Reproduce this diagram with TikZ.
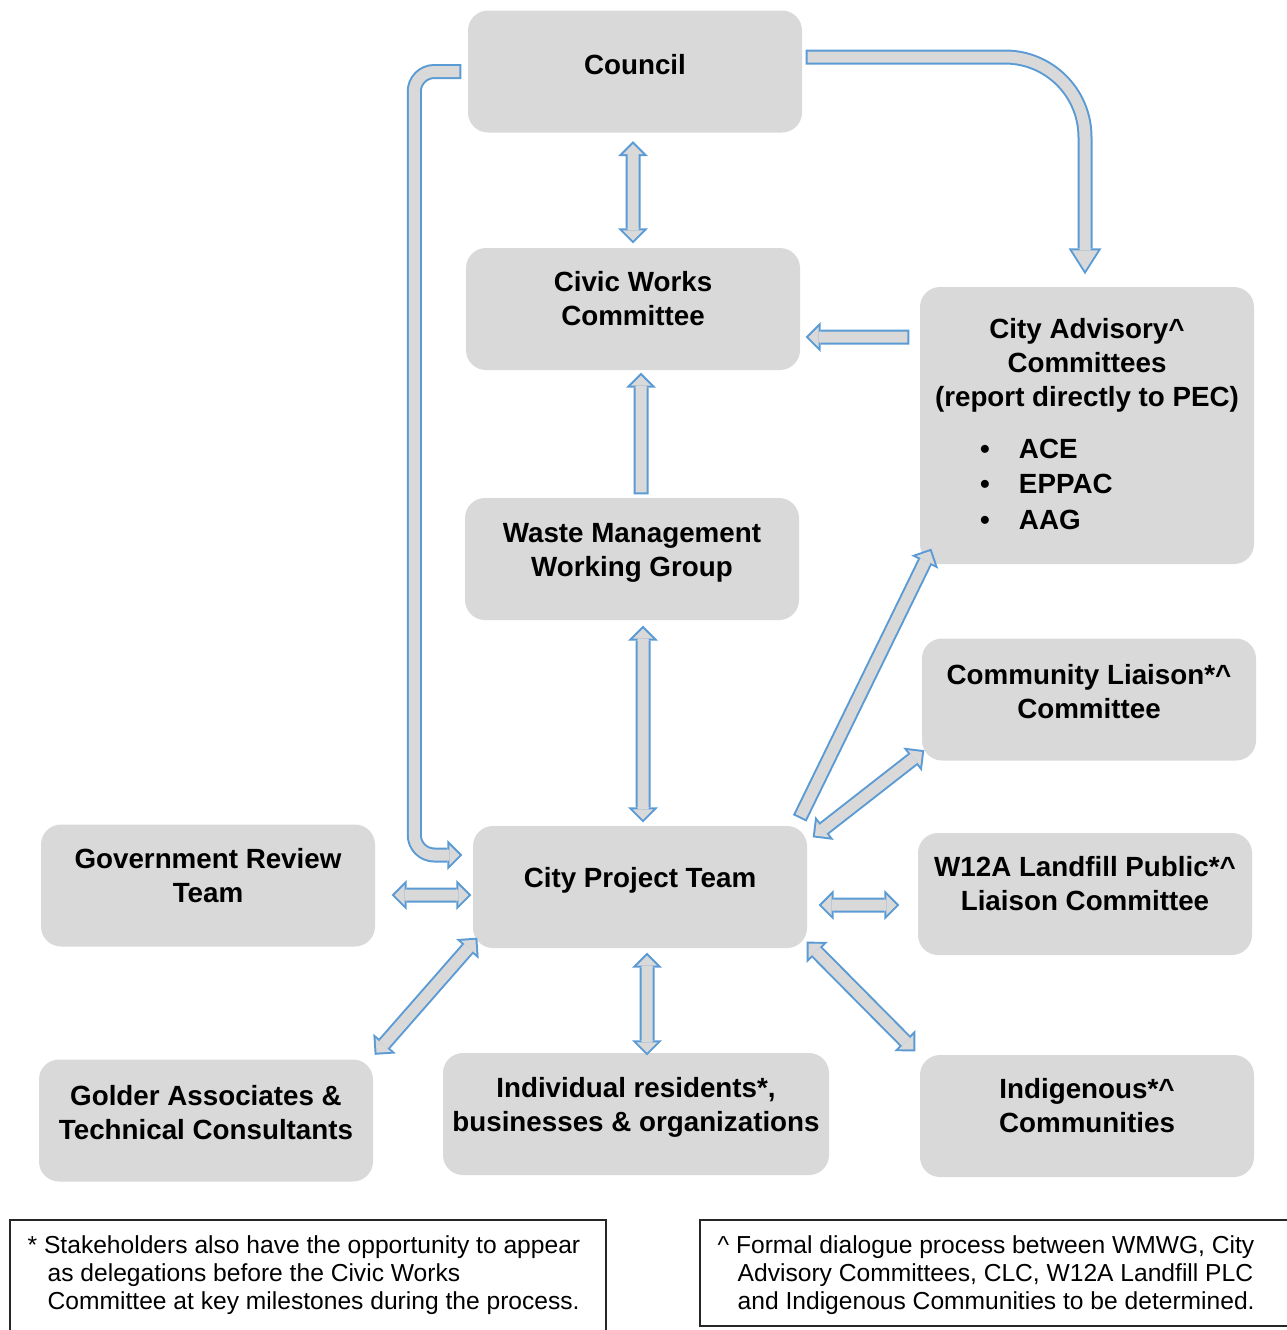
\documentclass[tikz,border=0pt]{standalone}
\usepackage{fontspec}
\setmainfont{Liberation Sans}
\usetikzlibrary{arrows.meta}
\definecolor{boxgray}{HTML}{D9D9D9}
\definecolor{arrowgray}{HTML}{D9D9D9}
\definecolor{arrowblue}{HTML}{5B9BD5}
\newcommand{\boxfont}{\bfseries\fontsize{7.9}{9.7}\selectfont}
\newcommand{\listfont}{\bfseries\fontsize{7.9}{10.1}\selectfont}
\newcommand{\notefont}{\fontsize{7}{8}\selectfont}
\newcommand{\bul}{\hbox to 3.9mm{\textbullet\hfil}}
\tikzset{
	BlockOut/.tip={Triangle[width=3mm, length=1.5mm, line width=0pt]},
	BlockIn/.tip={Triangle[width=2.04mm, length=1.02mm, line width=0pt]},
	BigOut/.tip={Triangle[width=3.3mm, length=2.6mm, line width=0pt]},
	BigIn/.tip={Triangle[width=2.58mm, length=2.03mm, line width=0pt]}
}

\begin{document}
\begin{tikzpicture}[box_style/.style={rounded corners=0.2cm, fill=boxgray, minimum width=3.34cm, minimum height=1.22cm, inner sep=0pt},
		text_style/.style={font=\boxfont, align=center, inner sep=0pt, yshift=1mm},
		arrow_out/.style={draw=arrowblue, line width=0.15cm, shorten >=0pt, shorten <=0pt},
		arrow_in/.style={draw=arrowgray, line width=0.11cm},
		one_way/.style={preaction={arrow_out, -{BlockOut}}, arrow_in, -{BlockIn}, shorten >=0.28mm, shorten <=0.2mm},
		big_way/.style={preaction={arrow_out, -{BigOut}}, arrow_in, -{BigIn}, shorten >=0.37mm, shorten <=0.2mm},
		two_way/.style={preaction={arrow_out, {BlockOut}-{BlockOut}}, arrow_in, {BlockIn}-{BlockIn}, shorten >=0.28mm, shorten <=0.28mm},
		note_style/.style={font=\notefont, align=left, inner sep=0pt, anchor=north west},
		note_frame/.style={draw=black!85, line width=0.45pt}]
	
	\useasboundingbox (0,0) rectangle (12.86,-13.30);
	
	% boxes
	\node[box_style, label={[text_style, yshift=-0.3mm]center:Council}] (council) at (6.35,-0.715) {};
	\node[box_style, label={[text_style]center:{Civic Works\\Committee}}] (civic) at (6.33,-3.09) {};
	\node[box_style, label={[text_style, yshift=-0.35mm]center:{Waste Management\\Working Group}}] (wmwg) at (6.32,-5.59) {};
	\node[box_style, label={[text_style, yshift=-0.3mm]center:City Project Team}] (cpt) at (6.40,-8.87) {};
	\node[box_style, label={[text_style]center:{Government Review\\Team}}] (gov) at (2.08,-8.855) {};
	\node[box_style, label={[text_style, yshift=-0.2mm]center:{Golder Associates \&\\Technical Consultants}}] (golder) at (2.06,-11.205) {};
	\node[box_style, minimum width=3.86cm, label={[text_style, yshift=-0.3mm]center:{Individual residents*,\\businesses \& organizations}}] (indiv) at (6.36,-11.14) {};
	\node[box_style, label={[text_style]center:{Indigenous*\textasciicircum\\Communities}}] (indig) at (10.87,-11.16) {};
	\node[box_style, label={[text_style, yshift=-0.2mm]center:{Community Liaison*\textasciicircum\\Committee}}] (clc) at (10.89,-6.995) {};
	\node[box_style, label={[text_style]center:{W12A Landfill Public*\textasciicircum\\Liaison Committee}}] (w12a) at (10.85,-8.94) {};
	\node[box_style, minimum height=2.77cm] (adv) at (10.87,-4.255) {};
	\node[font=\boxfont, align=center, inner sep=0pt, anchor=north] (adv_head) at ([yshift=-3.15mm]adv.north)
		{City Advisory\textasciicircum\\Committees\\(report directly to PEC)};
	\node[font=\listfont, align=left, inner sep=0pt, anchor=north west] (adv_list) at ([xshift=6mm, yshift=-15.2mm]adv.north west)
		{\bul ACE\\\bul EPPAC\\\bul AAG};
	
	% arrows
	\draw[two_way] ([xshift=-0.2mm, yshift=-0.8mm]council.south) -- ([yshift=0.4mm]civic.north);
	\draw[one_way] ([xshift=0.9mm, yshift=0.3mm]wmwg.north) -- ([xshift=0.8mm, yshift=-0.2mm]civic.south);
	\draw[two_way] ([xshift=1.1mm, yshift=-0.5mm]wmwg.south) -- ([xshift=0.3mm, yshift=0.3mm]cpt.north);
	\draw[one_way] ([xshift=-1mm, yshift=8.85mm]adv.west) -- ([xshift=0.5mm, yshift=-2.8mm]civic.east);
	\draw[big_way, rounded corners=0.8cm] ([xshift=0.3mm, yshift=1.45mm]council.east) -| ([xshift=-0.2mm, yshift=1.2mm]adv.north);
	\draw[one_way, rounded corners=0.2cm] ([xshift=-0.6mm]council.west) -| ([xshift=-5.8mm, yshift=3.2mm]cpt.west) -- ([xshift=-1mm, yshift=3.2mm]cpt.west);
	\draw[one_way] ([xshift=-0.8mm, yshift=0.7mm]cpt.north east) -- ([xshift=1.2mm, yshift=1.6mm]adv.south west);
	\draw[two_way] ([xshift=0.5mm, yshift=-1.2mm]cpt.north east) -- ([xshift=0.3mm, yshift=1.1mm]clc.south west);
	\draw[two_way] ([xshift=1.1mm, yshift=-1.8mm]cpt.east) -- ([xshift=-1.8mm, yshift=-1.1mm]w12a.west);
	\draw[two_way] ([xshift=1.6mm, yshift=-0.95mm]gov.east) -- ([xshift=-0.1mm, yshift=-0.8mm]cpt.west);
	\draw[two_way] ([xshift=0.1mm, yshift=0.4mm]golder.north east) -- ([xshift=0.5mm, yshift=1.1mm]cpt.south west);
	\draw[two_way] ([xshift=0.7mm, yshift=-0.4mm]cpt.south) -- ([xshift=1.1mm, yshift=-0.3mm]indiv.north);
	\draw[two_way] ([xshift=-0.1mm, yshift=0.7mm]cpt.south east) -- ([xshift=-0.4mm, yshift=0.3mm]indig.north west);
	
	% notes
	\draw[note_frame] (0.10,-12.20) rectangle (6.06,-13.45);
	\draw[note_frame] (7.00,-12.20) rectangle (13.10,-13.26);
	\node[note_style] (note_star) at (0.27,-12.35)
		{* Stakeholders also have the opportunity to appear\\\hspace*{0.2cm}as delegations before the Civic Works\\\hspace*{0.2cm}Committee at key milestones during the process.};
	\node[note_style] (note_hat) at (7.17,-12.35)
		{\textasciicircum\ Formal dialogue process between WMWG, City\\\hspace*{0.2cm}Advisory Committees, CLC, W12A Landfill PLC\\\hspace*{0.2cm}and Indigenous Communities to be determined.};
\end{tikzpicture}
\end{document}
